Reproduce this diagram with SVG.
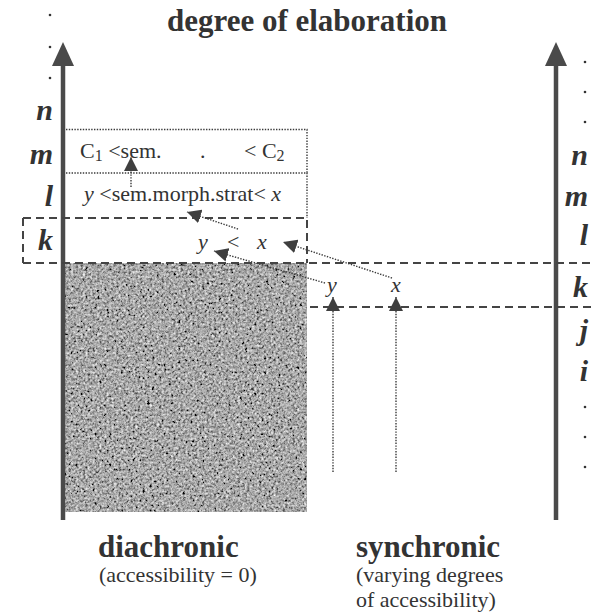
<svg xmlns="http://www.w3.org/2000/svg" width="593" height="613" viewBox="0 0 593 613">
<style>
text{font-family:"Liberation Serif","Times New Roman",serif;fill:#333}
.title{font-size:31px;font-weight:bold}
.lvl{font-size:30px;font-weight:bold;font-style:italic}
.row{font-size:22px}
.it{font-style:italic}
.big{font-size:31px;font-weight:bold}
.sub{font-size:22px}
.axis{stroke:#4a4a4a;stroke-width:4.5;fill:none}
.head{fill:#4a4a4a}
.dot{stroke:#3a3a3a;stroke-width:1.4;stroke-dasharray:1.4 1.4;fill:none}
.dash{stroke:#444;stroke-width:2;stroke-dasharray:8 5;fill:none}
.pt{fill:#333}
</style>
<defs>
<marker id="ah" markerUnits="userSpaceOnUse" markerWidth="15" markerHeight="14" refX="14" refY="7" orient="auto">
<path d="M0,0 L14,7 L0,14 z" fill="#3f3f3f"/>
</marker>
<filter id="grain" x="0" y="0" width="100%" height="100%">
<feTurbulence type="fractalNoise" baseFrequency="0.42" numOctaves="3" seed="7" result="t"/>
<feColorMatrix in="t" type="matrix" values="0.33 0.33 0.33 0 0  0.33 0.33 0.33 0 0  0.33 0.33 0.33 0 0  0 0 0 0 1" result="g"/>
<feComponentTransfer in="g" result="c">
<feFuncR type="table" tableValues="-0.7 1.5"/>
<feFuncG type="table" tableValues="-0.7 1.5"/>
<feFuncB type="table" tableValues="-0.7 1.5"/>
</feComponentTransfer>
<feComposite in="c" in2="SourceGraphic" operator="in"/>
</filter>
</defs>
<rect width="593" height="613" fill="#fff"/>

<g id="title"><text class="title" x="307" y="31" text-anchor="middle">degree of elaboration</text></g>

<g id="diachronic-area">
<rect x="65" y="263" width="242" height="249" fill="#7d7d7d"/>
<rect x="65" y="263" width="242" height="249" fill="#000" filter="url(#grain)"/>
</g>

<g id="axis-left">
<line class="axis" x1="63" y1="62" x2="63" y2="520"/>
<path class="head" d="M63,42 L74,66 L52,66 z"/>
</g>
<g id="axis-right">
<line class="axis" x1="556" y1="62" x2="556" y2="520"/>
<path class="head" d="M556,42 L567,66 L545,66 z"/>
</g>

<g id="levels-left">
<circle class="pt" cx="50" cy="15" r="1.3"/>
<circle class="pt" cx="50" cy="47" r="1.3"/>
<circle class="pt" cx="50" cy="78" r="1.3"/>
<text class="lvl" x="53" y="120" text-anchor="end">n</text>
<text class="lvl" x="53" y="164" text-anchor="end">m</text>
<text class="lvl" x="53" y="206" text-anchor="end">l</text>
<text class="lvl" x="53" y="250" text-anchor="end">k</text>
</g>

<g id="levels-right">
<circle class="pt" cx="585" cy="62" r="1.3"/>
<circle class="pt" cx="585" cy="92" r="1.3"/>
<circle class="pt" cx="585" cy="122" r="1.3"/>
<text class="lvl" x="588" y="165" text-anchor="end">n</text>
<text class="lvl" x="588" y="206" text-anchor="end">m</text>
<text class="lvl" x="588" y="245" text-anchor="end">l</text>
<text class="lvl" x="588" y="297" text-anchor="end">k</text>
<text class="lvl" x="588" y="340" text-anchor="end">j</text>
<text class="lvl" x="588" y="381" text-anchor="end">i</text>
<circle class="pt" cx="585" cy="407" r="1.3"/>
<circle class="pt" cx="585" cy="437" r="1.3"/>
<circle class="pt" cx="585" cy="467" r="1.3"/>
</g>

<g id="box-m">
<path class="dot" d="M66,129.5 H307 V173 M66,173 H307 V218"/>
<text class="row" x="80" y="158">C<tspan font-size="16" dy="3">1</tspan><tspan dy="-3"> &lt;sem.</tspan></text>
<text class="row" x="200" y="158">.</text>
<text class="row" x="244" y="158">&lt; C<tspan font-size="16" dy="3">2</tspan></text>
</g>

<g id="box-l">
<text class="row" x="84" y="201"><tspan class="it">y</tspan> &lt;sem.morph.strat&lt; <tspan class="it">x</tspan></text>
</g>

<g id="box-k">
<path class="dash" d="M23,218 H307 V263 M23,218 V263"/>
<text class="row it" x="198" y="249">y</text>
<text class="row" x="227" y="249">&lt;</text>
<text class="row it" x="257" y="249">x</text>
</g>

<g id="level-lines">
<line class="dash" x1="23" y1="263" x2="593" y2="263"/>
<line class="dash" x1="310" y1="307" x2="593" y2="307"/>
</g>

<g id="syn-y"><text class="row it" x="327" y="292">y</text></g>
<g id="syn-x"><text class="row it" x="391" y="292">x</text></g>

<g id="connectors">
<line class="dot" x1="333" y1="472" x2="333" y2="297" marker-end="url(#ah)"/>
<line class="dot" x1="396" y1="472" x2="396" y2="297" marker-end="url(#ah)"/>
<line class="dot" x1="325" y1="283" x2="214" y2="251" marker-end="url(#ah)"/>
<line class="dot" x1="392" y1="278" x2="283" y2="242" marker-end="url(#ah)"/>
<line class="dot" x1="238" y1="229" x2="187" y2="212" marker-end="url(#ah)"/>
<line class="dot" x1="131" y1="187" x2="131" y2="157" marker-end="url(#ah)"/>
</g>

<g id="label-diachronic">
<text class="big" x="98" y="557">diachronic</text>
<text class="sub" x="99" y="582">(accessibility = 0)</text>
</g>
<g id="label-synchronic">
<text class="big" x="356" y="557">synchronic</text>
<text class="sub" x="356" y="582">(varying degrees</text>
<text class="sub" x="356" y="607">of accessibility)</text>
</g>
</svg>
